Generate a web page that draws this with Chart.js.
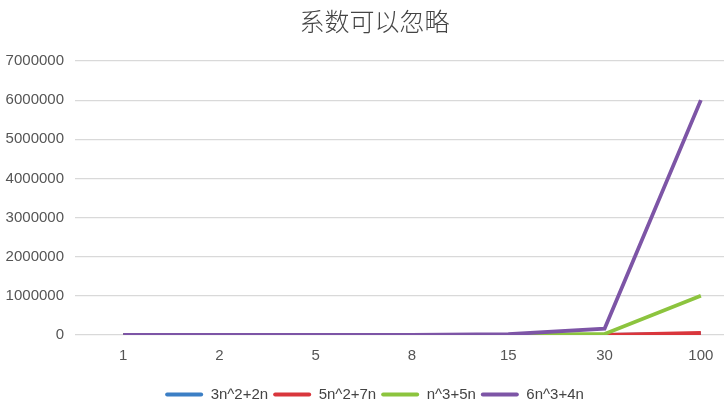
<!DOCTYPE html>
<html lang="zh">
<head>
    <meta charset="UTF-8">
    <title>系数可以忽略</title>
    <script src="https://cdn.jsdelivr.net/npm/chart.js"></script>
    <style>
        html, body { margin: 0; padding: 0; background: #fff; overflow: hidden; }
        #wrap { width: 760px; height: 407px; }
    </style>
</head>
<body>
    <div id="wrap"><canvas id="chart" width="760" height="407"></canvas></div>

    <script>
        // n values along the x axis
        const nLabels = ['1', '2', '5', '8', '15', '30', '100'];

        const series1 = [5, 16, 85, 208, 705, 2760, 30200];          // 3n^2+2n
        const series2 = [12, 34, 160, 376, 1230, 4710, 50700];       // 5n^2+7n
        const series3 = [6, 18, 150, 552, 3450, 27150, 1000500];     // n^3+5n
        const series4 = [10, 56, 770, 3104, 20310, 162120, 6000400]; // 6n^3+4n

        const seriesNames = ['3n^2+2n', '5n^2+7n', 'n^3+5n', '6n^3+4n'];
        const seriesColors = ['#3c7fc5', '#d9363c', '#8cc43e', '#7d55a6'];

        const textFont = "'Liberation Sans', Arial, sans-serif";

        let allSeries = [series1, series2, series3, series4];
        let datasets = allSeries.map((vals, i) => ({
            label: seriesNames[i],
            data: vals,
            borderColor: seriesColors[i],
            backgroundColor: seriesColors[i],
            borderWidth: 3.8,
            pointRadius: 0,
            tension: 0,
            fill: false,
            order: allSeries.length - 1 - i   // later series drawn on top
        }));

        // nudge the legend a bit lower than chart.js puts it
        const legendNudge = {
            id: 'legendNudge',
            afterLayout(chart) {
                chart.legend.top += 5;
                chart.legend.bottom += 5;
            }
        };

        new Chart(document.getElementById('chart'), {
            type: 'line',
            data: { labels: nLabels, datasets: datasets },
            plugins: [legendNudge],
            options: {
                responsive: false,
                animation: false,
                layout: { padding: { top: 4, right: 11, left: 0, bottom: 0 } },
                scales: {
                    x: {
                        offset: true,
                        grid: { display: false, drawTicks: false },
                        border: { display: false },
                        ticks: { color: '#555', font: { family: textFont, size: 15 }, padding: 12 }
                    },
                    y: {
                        min: 0,
                        max: 7000000,
                        afterFit: function(scale) { scale.width = 75; },
                        grid: { color: '#d9d9d9', lineWidth: 1.2, drawTicks: false },
                        border: { display: false },
                        ticks: {
                            stepSize: 1000000,
                            color: '#555',
                            padding: 11,
                            font: { family: textFont, size: 15 },
                            callback: function(v) { return String(v); }
                        }
                    }
                },
                plugins: {
                    title: {
                        display: true,
                        text: '系数可以忽略',
                        color: '#444',
                        font: { family: "'Noto Sans CJK SC', sans-serif", size: 25, weight: '300' },
                        padding: { top: 2, bottom: 25 }
                    },
                    legend: {
                        position: 'bottom',
                        labels: {
                            color: '#444',
                            boxWidth: 38,
                            boxHeight: 4,
                            padding: 5,
                            useBorderRadius: true,
                            borderRadius: 2,
                            font: { family: textFont, size: 15 },
                            sort: (a, b) => a.datasetIndex - b.datasetIndex,
                            generateLabels: function(chart) {
                                let items = Chart.defaults.plugins.legend.labels.generateLabels(chart);
                                items.forEach(it => { it.lineWidth = 0; });
                                return items;
                            }
                        }
                    }
                }
            }
        });
    </script>
</body>
</html>
